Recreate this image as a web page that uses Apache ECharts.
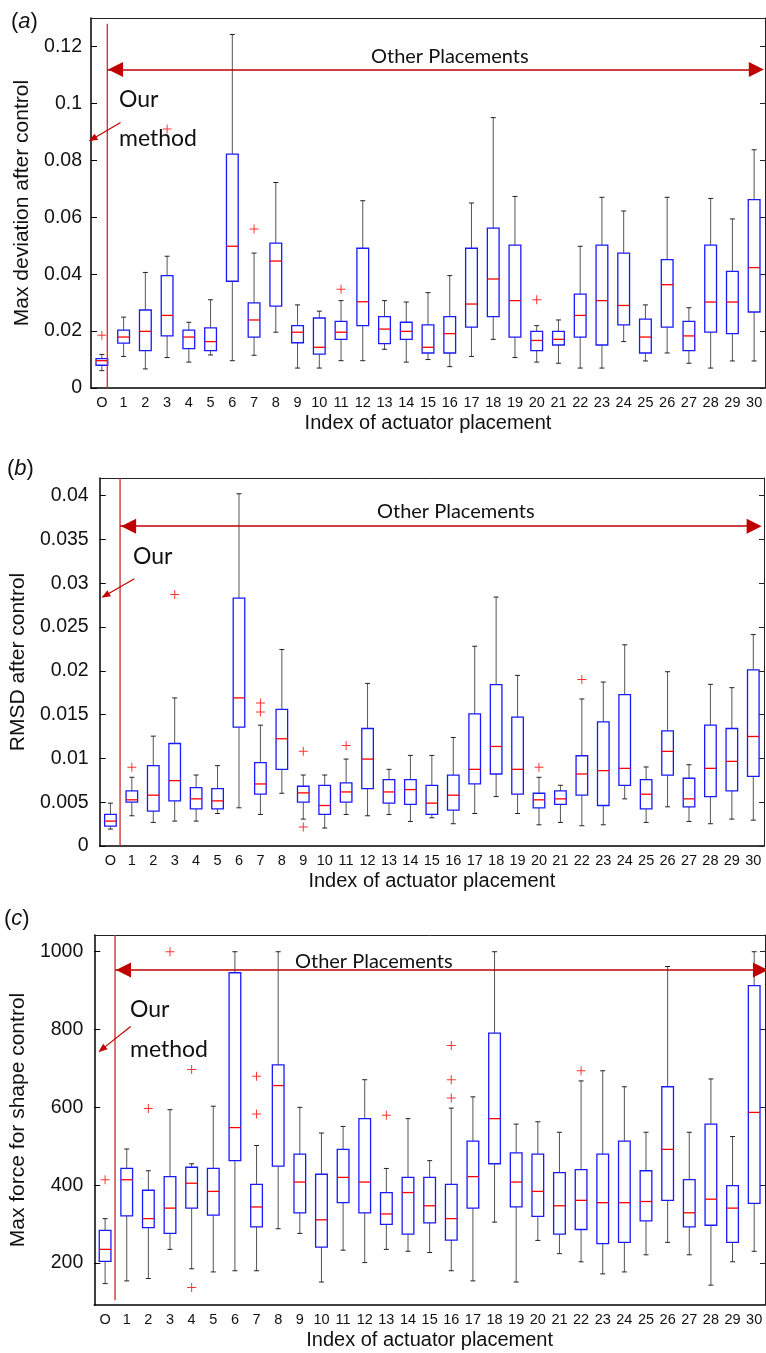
<!DOCTYPE html>
<html>
<head>
<meta charset="utf-8">
<script src="https://cdn.jsdelivr.net/npm/echarts@6/dist/echarts.min.js"></script>
<style>
  html, body { margin: 0; padding: 0; background: #fff; }
  #chart { width: 766px; height: 1353px; }
</style>
</head>
<body>
<div id="chart"></div>
<script>
// x categories: "O" = our method, 1..30 = other placements
const CATS = ['O', '1', '2', '3', '4', '5', '6', '7', '8', '9', '10', '11', '12', '13', '14', '15',
  '16', '17', '18', '19', '20', '21', '22', '23', '24', '25', '26', '27', '28', '29', '30'];

// box rows: [lower whisker, q1, median, q3, upper whisker]
const DEV_BOX = [
  [0.0061, 0.0080, 0.0096, 0.0103, 0.0118],
  [0.0111, 0.0158, 0.0179, 0.0203, 0.0249],
  [0.0067, 0.0131, 0.0199, 0.0274, 0.0406],
  [0.0107, 0.0183, 0.0255, 0.0395, 0.0463],
  [0.0091, 0.0138, 0.0179, 0.0203, 0.0231],
  [0.0116, 0.0131, 0.0163, 0.0211, 0.0310],
  [0.0096, 0.0375, 0.0498, 0.0822, 0.1242],
  [0.0115, 0.0179, 0.0239, 0.0299, 0.0474],
  [0.0196, 0.0288, 0.0446, 0.0509, 0.0722],
  [0.0070, 0.0159, 0.0196, 0.0219, 0.0292],
  [0.0070, 0.0119, 0.0143, 0.0246, 0.0270],
  [0.0096, 0.0171, 0.0196, 0.0234, 0.0307],
  [0.0096, 0.0219, 0.0303, 0.0491, 0.0658],
  [0.0136, 0.0156, 0.0207, 0.0251, 0.0307],
  [0.0091, 0.0171, 0.0199, 0.0231, 0.0302],
  [0.0100, 0.0123, 0.0143, 0.0222, 0.0335],
  [0.0075, 0.0123, 0.0191, 0.0251, 0.0395],
  [0.0111, 0.0214, 0.0295, 0.0491, 0.0650],
  [0.0171, 0.0251, 0.0383, 0.0562, 0.0950],
  [0.0107, 0.0179, 0.0307, 0.0502, 0.0673],
  [0.0091, 0.0131, 0.0167, 0.0199, 0.0219],
  [0.0087, 0.0151, 0.0171, 0.0199, 0.0239],
  [0.0070, 0.0179, 0.0255, 0.0330, 0.0498],
  [0.0070, 0.0151, 0.0307, 0.0502, 0.0670],
  [0.0163, 0.0222, 0.0290, 0.0474, 0.0622],
  [0.0095, 0.0123, 0.0179, 0.0242, 0.0292],
  [0.0123, 0.0214, 0.0363, 0.0451, 0.0670],
  [0.0087, 0.0131, 0.0183, 0.0234, 0.0282],
  [0.0070, 0.0196, 0.0302, 0.0502, 0.0666],
  [0.0095, 0.0191, 0.0302, 0.0410, 0.0594],
  [0.0095, 0.0267, 0.0423, 0.0662, 0.0837]
];
// outliers: [category index, value]
const DEV_OUT = [[0, 0.0185], [3, 0.091], [7, 0.0559], [11, 0.0347], [20, 0.0310]];

const RMSD_BOX = [
  [0.00193, 0.00227, 0.00284, 0.0036, 0.00489],
  [0.00345, 0.0050, 0.00527, 0.00629, 0.00784],
  [0.00269, 0.00398, 0.0058, 0.00917, 0.01254],
  [0.00284, 0.00515, 0.00746, 0.0117, 0.0169],
  [0.00284, 0.00424, 0.00538, 0.00667, 0.0081],
  [0.00371, 0.00424, 0.00515, 0.00655, 0.00917],
  [0.00436, 0.01356, 0.0169, 0.0283, 0.0402],
  [0.0036, 0.00591, 0.00708, 0.00951, 0.01379],
  [0.00602, 0.00875, 0.01224, 0.0156, 0.02243],
  [0.00307, 0.0050, 0.00606, 0.00682, 0.0081],
  [0.00205, 0.0036, 0.00462, 0.00693, 0.0081],
  [0.0036, 0.0050, 0.00617, 0.0072, 0.00992],
  [0.00345, 0.00655, 0.00992, 0.01341, 0.01856],
  [0.0036, 0.00489, 0.00617, 0.00758, 0.00875],
  [0.0028, 0.00474, 0.00644, 0.00758, 0.01034],
  [0.00322, 0.0036, 0.00489, 0.00693, 0.01034],
  [0.00254, 0.00409, 0.0058, 0.0081, 0.01239],
  [0.00371, 0.00708, 0.00875, 0.01508, 0.0228],
  [0.00564, 0.00822, 0.01136, 0.01841, 0.02841],
  [0.00371, 0.00591, 0.00875, 0.0147, 0.01947],
  [0.00242, 0.00436, 0.00527, 0.00602, 0.00784],
  [0.00269, 0.00474, 0.00538, 0.00629, 0.00693],
  [0.00231, 0.0058, 0.00822, 0.0103, 0.01678],
  [0.00242, 0.00462, 0.0086, 0.01417, 0.01871],
  [0.00538, 0.00693, 0.00886, 0.01727, 0.02296],
  [0.00269, 0.00424, 0.00591, 0.00758, 0.00902],
  [0.00447, 0.0081, 0.0108, 0.01314, 0.01989],
  [0.0028, 0.00447, 0.00538, 0.00773, 0.00928],
  [0.00254, 0.00564, 0.00886, 0.01379, 0.01845],
  [0.00307, 0.00629, 0.00966, 0.01341, 0.01807],
  [0.00295, 0.00795, 0.0125, 0.02011, 0.02413]
];
const RMSD_OUT = [[1, 0.00898], [3, 0.0287], [7, 0.01633], [7, 0.0153], [9, 0.0108], [9, 0.00216],
  [11, 0.01148], [20, 0.00898], [22, 0.019]];

const FORCE_BOX = [
  [147, 204, 235, 284, 314],
  [154, 321, 414, 443, 493],
  [160, 291, 314, 387, 437],
  [235, 276, 341, 422, 594],
  [185, 341, 405, 446, 455],
  [177, 323, 384, 443, 603],
  [180, 463, 548, 946, 1000],
  [180, 293, 344, 402, 502],
  [288, 449, 656, 709, 1000],
  [276, 329, 408, 480, 600],
  [151, 241, 311, 428, 534],
  [233, 355, 420, 492, 551],
  [201, 329, 408, 571, 671],
  [235, 299, 326, 381, 443],
  [230, 274, 381, 420, 571],
  [227, 303, 347, 420, 463],
  [180, 259, 314, 402, 598],
  [154, 341, 422, 513, 627],
  [305, 455, 571, 791, 1000],
  [151, 344, 408, 483, 557],
  [258, 320, 384, 480, 563],
  [224, 274, 347, 432, 536],
  [203, 286, 361, 440, 668],
  [172, 250, 355, 480, 694],
  [177, 253, 355, 513, 653],
  [221, 308, 358, 437, 536],
  [253, 361, 492, 653, 962],
  [221, 293, 329, 414, 536],
  [143, 297, 364, 557, 673],
  [203, 253, 341, 399, 525],
  [230, 353, 587, 913, 1000]
];
const FORCE_OUT = [[0, 414], [2, 597], [3, 1000], [4, 697], [4, 137], [7, 680], [7, 583], [13, 580],
  [16, 759], [16, 671], [16, 624], [22, 694]];

const DEV_TICKS = [0, 0.02, 0.04, 0.06, 0.08, 0.1, 0.12];
const RMSD_TICKS = [0, 0.005, 0.01, 0.015, 0.02, 0.025, 0.03, 0.035, 0.04];
const FORCE_TICKS = [200, 400, 600, 800, 1000];

const X_TITLE = 'Index of actuator placement';
const FONT = "'Liberation Sans', Arial, sans-serif";
const NOTE_FONT = "Lato, 'Open Sans', sans-serif";
const DARK_RED = '#c00000';
const PLUS = 'path://M4,0h1v4h4v1h-4v4h-1v-4h-4v-1h4z';

// layout per panel (pixels + axis ranges + annotation anchors in data units)
// arrow: [x of left head centre, x of right head centre], heads are centred on their end points
const panels = [
  {
    box: DEV_BOX, out: DEV_OUT, ticks: DEV_TICKS, title: 'Max deviation after control',
    grid: { left: 91, top: 18, width: 674, height: 370 }, min: 0, max: 0.13, nameGap: 56,
    labelMargin: 9, vx: 0.25, vy: [0, 0.128], ay: 0.1119, arrow: [0.63, 30.1],
    small: [[0.86, 0.0933], [-0.43, 0.0875]]
  },
  {
    box: RMSD_BOX, out: RMSD_OUT, ticks: RMSD_TICKS, title: 'RMSD after control',
    grid: { left: 93, top: 478, width: 671, height: 368 }, min: 0, max: 0.042, nameGap: 69,
    labelMargin: 11, vx: 0.45, vy: [0, 0.042], ay: 0.0365, arrow: [0.85, 30.04],
    small: [[1.12, 0.0305], [-0.24, 0.0286]]
  },
  {
    box: FORCE_BOX, out: FORCE_OUT, ticks: FORCE_TICKS, title: 'Max force for shape control',
    grid: { left: 89, top: 935, width: 676, height: 370 }, min: 92, max: 1043, nameGap: 64,
    labelMargin: 11, vx: 0.46, vy: [104, 1043], ay: 953, arrow: [0.85, 30.29],
    small: [[1.18, 808], [-0.15, 749]]
  }
];

function renderBox(params, api) {
  const i = api.value(0);
  const lo = api.coord([i, api.value(1)]);
  const q1 = api.coord([i, api.value(2)]);
  const md = api.coord([i, api.value(3)]);
  const q3 = api.coord([i, api.value(4)]);
  const hi = api.coord([i, api.value(5)]);
  const cx = lo[0];
  const hw = api.size([1, 0])[0] * 0.27;
  const cap = 2.5;
  const whisk = { stroke: '#555', lineWidth: 1 };
  return {
    type: 'group',
    children: [
      { type: 'line', shape: { x1: cx, y1: hi[1], x2: cx, y2: q3[1] }, style: whisk },
      { type: 'line', shape: { x1: cx, y1: q1[1], x2: cx, y2: lo[1] }, style: whisk },
      { type: 'line', shape: { x1: cx - cap, y1: hi[1], x2: cx + cap, y2: hi[1] }, style: { stroke: '#222', lineWidth: 1 } },
      { type: 'line', shape: { x1: cx - cap, y1: lo[1], x2: cx + cap, y2: lo[1] }, style: { stroke: '#222', lineWidth: 1 } },
      { type: 'rect', shape: { x: cx - hw, y: q3[1], width: hw * 2, height: q1[1] - q3[1] },
        style: { fill: null, stroke: '#1a1aff', lineWidth: 1.3 } },
      { type: 'line', shape: { x1: cx - hw, y1: md[1], x2: cx + hw, y2: md[1] }, style: { stroke: '#ff0000', lineWidth: 1.3 } }
    ]
  };
}

const grid = [], xAxis = [], yAxis = [], series = [];
panels.forEach((p, k) => {
  grid.push(Object.assign({ containLabel: false }, p.grid));
  xAxis.push({
    type: 'category', gridIndex: k, data: CATS, boundaryGap: true,
    axisLine: { onZero: false, lineStyle: { color: '#000', width: 1.5 } },
    axisTick: { show: false },
    axisLabel: { interval: 0, fontSize: 14.5, color: '#111', margin: 7, fontFamily: FONT },
    name: X_TITLE, nameLocation: 'middle', nameGap: 25,
    nameTextStyle: { fontSize: 20, color: '#111', fontFamily: FONT }
  });
  xAxis.push({
    type: 'value', gridIndex: k, position: 'top', min: -0.5, max: 30.5,
    axisLine: { show: true, onZero: false, lineStyle: { color: '#222', width: 1 } },
    axisTick: { show: false }, axisLabel: { show: false }, splitLine: { show: false }
  });
  yAxis.push({
    type: 'value', gridIndex: k, min: p.min, max: p.max,
    axisLine: { show: true, onZero: false, lineStyle: { color: '#000', width: 1.5 } },
    axisTick: { show: true, inside: true, length: 6, customValues: p.ticks, lineStyle: { color: '#000' } },
    axisLabel: { customValues: p.ticks, formatter: v => String(v), fontSize: 19.5, color: '#111',
      margin: p.labelMargin, fontFamily: FONT },
    splitLine: { show: false },
    name: p.title, nameLocation: 'middle', nameGap: p.nameGap, nameRotate: 90,
    nameTextStyle: { fontSize: 21, color: '#111', fontFamily: FONT }
  });
  yAxis.push({
    type: 'value', gridIndex: k, position: 'right', min: p.min, max: p.max,
    axisLine: { show: true, onZero: false, lineStyle: { color: '#222', width: 1 } },
    axisTick: { show: true, inside: true, length: 5, customValues: p.ticks, lineStyle: { color: '#222' } },
    axisLabel: { show: false }, splitLine: { show: false }
  });

  series.push({
    type: 'custom', xAxisIndex: 2 * k, yAxisIndex: 2 * k,
    data: p.box.map((r, i) => [i].concat(r)),
    encode: { x: 0, y: [1, 2, 3, 4, 5] },
    renderItem: renderBox, clip: true, silent: true, animation: false
  });
  series.push({
    type: 'scatter', xAxisIndex: 2 * k, yAxisIndex: 2 * k, data: p.out,
    symbol: PLUS, symbolSize: 9, itemStyle: { color: '#ff0000' }, silent: true, animation: false
  });
  // red divider line + "Other Placements" double arrow + small arrow to "Our method"
  series.push({
    type: 'line', xAxisIndex: 2 * k + 1, yAxisIndex: 2 * k,
    data: [[p.vx, p.vy[0]], [p.vx, p.vy[1]]],
    symbol: 'none', lineStyle: { color: '#cc2a2a', width: 1.3 }, silent: true, animation: false,
    markLine: {
      silent: true, animation: false, label: { show: false },
      symbol: ['triangle', 'triangle'], symbolSize: [15, 15],
      lineStyle: { color: DARK_RED, width: 1.5, type: 'solid' },
      data: [
        [{ coord: [p.arrow[0], p.ay] }, { coord: [p.arrow[1], p.ay] }],
        [{ coord: [p.vx, p.ay], symbol: 'none' }, { coord: [p.arrow[0], p.ay], symbol: 'none' }],
        [{ coord: p.small[0], symbol: 'none' },
         { coord: p.small[1], symbol: 'triangle', symbolSize: [7, 9], lineStyle: { width: 1.2 } }]
      ]
    }
  });
});

function note(text, x, y, size) {
  return { type: 'text', silent: true, style: { text: text, x: x, y: y, fill: '#111',
    font: size + 'px ' + NOTE_FONT, textVerticalAlign: 'middle' } };
}
function panelTag(letter, x, y) {
  return { type: 'text', silent: true, style: { x: x, y: y, textVerticalAlign: 'middle',
    text: '({i|' + letter + '})', fill: '#111', font: '22px ' + FONT,
    rich: { i: { fontStyle: 'italic', fontSize: 22, fontFamily: FONT } } } };
}

const graphic = [
  panelTag('a', 11, 22), panelTag('b', 7, 469), panelTag('c', 4, 919),
  note('Our', 119, 100, 23), note('method', 119, 139, 23), note('Other Placements', 371, 57, 20),
  note('Our', 133, 557, 23), note('Other Placements', 377, 512, 20),
  note('Our', 130, 1010, 23), note('method', 130, 1050, 23), note('Other Placements', 295, 962, 20)
];

const chart = echarts.init(document.getElementById('chart'), null, { renderer: 'canvas' });
chart.setOption({
  backgroundColor: '#fff', animation: false,
  grid: grid, xAxis: xAxis, yAxis: yAxis, series: series, graphic: graphic
});
</script>
</body>
</html>
